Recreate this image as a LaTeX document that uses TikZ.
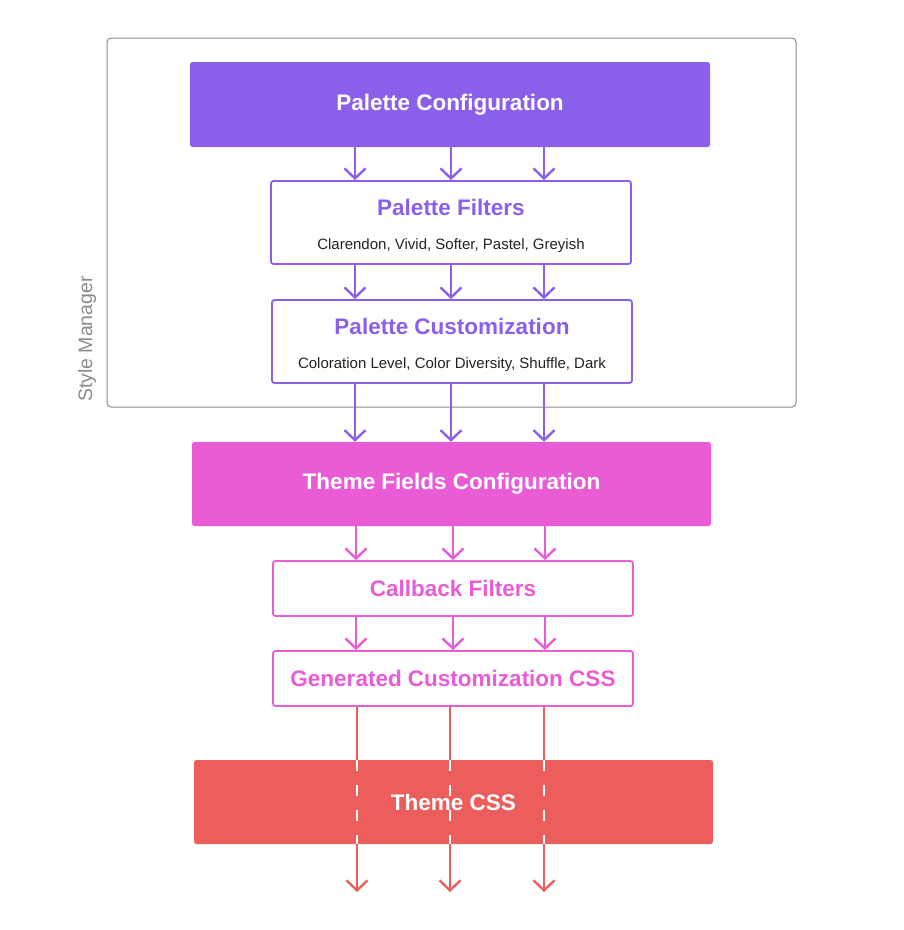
\documentclass[tikz,border=0pt]{standalone}
\usepackage{fontspec}
\setmainfont{Liberation Sans}
\usetikzlibrary{arrows.meta,positioning}
\definecolor{plum}{HTML}{8B5FEA}
\definecolor{orchid}{HTML}{EA5CD6}
\definecolor{coral}{HTML}{EB5E5C}
\definecolor{frame}{HTML}{8A8A8A}
\definecolor{ink}{HTML}{222222}

\begin{document}
\begin{tikzpicture}[x=1pt, y=-1pt,
	solid box/.style={rounded corners=2.5pt, inner sep=0pt, minimum width=519pt,
		minimum height=84pt, text=white, font=\bfseries\fontsize{22.5}{26}\selectfont},
	line box/.style={draw, rounded corners=2.5pt, line width=1.8pt, fill=white,
		inner sep=0pt, minimum width=360pt, align=center},
	flow/.style={line width=2.4pt, -{Straight Barb[length=10pt,width=21pt]}}]
	\useasboundingbox (0,0) rectangle (904,930);
	\draw[frame, line width=1pt, rounded corners=4pt] (107,38) rectangle (796,407);
	\node[frame, rotate=90, font=\fontsize{19.5}{22}\selectfont] (sm) at (87,339) {Style Manager};
	\node[solid box, fill=plum, minimum width=520pt, minimum height=85pt] (pc) at (450,104.5) {Palette Configuration};
	\node[line box, draw=plum, minimum height=83pt] (pf) at (451,222.5)
		{\rule{0pt}{24pt}\textcolor{plum}{\bfseries\fontsize{22.5}{26}\selectfont Palette Filters}\\[22pt]
		\textcolor{ink}{\fontsize{15}{17}\selectfont Clarendon, Vivid, Softer, Pastel, Greyish}};
	\node[line box, draw=plum, minimum height=83pt] (pcu) at (452,341.5)
		{\rule{0pt}{24pt}\textcolor{plum}{\bfseries\fontsize{22.5}{26}\selectfont Palette Customization}\\[22pt]
		\textcolor{ink}{\fontsize{15}{17}\selectfont Coloration Level, Color Diversity, Shuffle, Dark}};
	\node[solid box, fill=orchid] (tf) at (451.5,484) {Theme Fields Configuration};
	\node[line box, draw=orchid, minimum height=55pt, text=orchid,
		font=\bfseries\fontsize{22.5}{26}\selectfont] (cb) at (453,588.5) {Callback Filters};
	\node[line box, draw=orchid, minimum height=55pt, text=orchid,
		font=\bfseries\fontsize{22.5}{26}\selectfont] (gc) at (453,678.5) {Generated Customization CSS};
	\foreach \ax in {355,451,544} {
		\draw[flow, plum] (pc.south -| \ax,0) to (pf.north -| \ax,0);
		\draw[flow, plum] (pf.south -| \ax,0) to (pcu.north -| \ax,0);
		\draw[flow, plum] (pcu.south -| \ax,0) to (tf.north -| \ax,0);
	}
	\foreach \ax in {356,453,545} {
		\draw[flow, orchid] (tf.south -| \ax,0) to (cb.north -| \ax,0);
		\draw[flow, orchid] (cb.south -| \ax,0) to (gc.north -| \ax,0);
	}
	\coordinate (out1) at (357,892);
	\coordinate (out2) at (450,892);
	\coordinate (out3) at (544,892);
	\foreach \n in {1,2,3}
		\draw[flow, coral] (gc.south -| out\n) to (out\n);
	\node[solid box, fill=coral] (tc) at (453.5,802) {};
	\foreach \n in {1,2,3}
		\draw[white, line width=2.4pt, dash pattern=on 11pt off 14pt]
			(tc.north -| out\n) to (tc.south -| out\n);
	\node[text=white, font=\bfseries\fontsize{22.5}{26}\selectfont] (tcl) at (tc.center) {Theme CSS};
\end{tikzpicture}
\end{document}
